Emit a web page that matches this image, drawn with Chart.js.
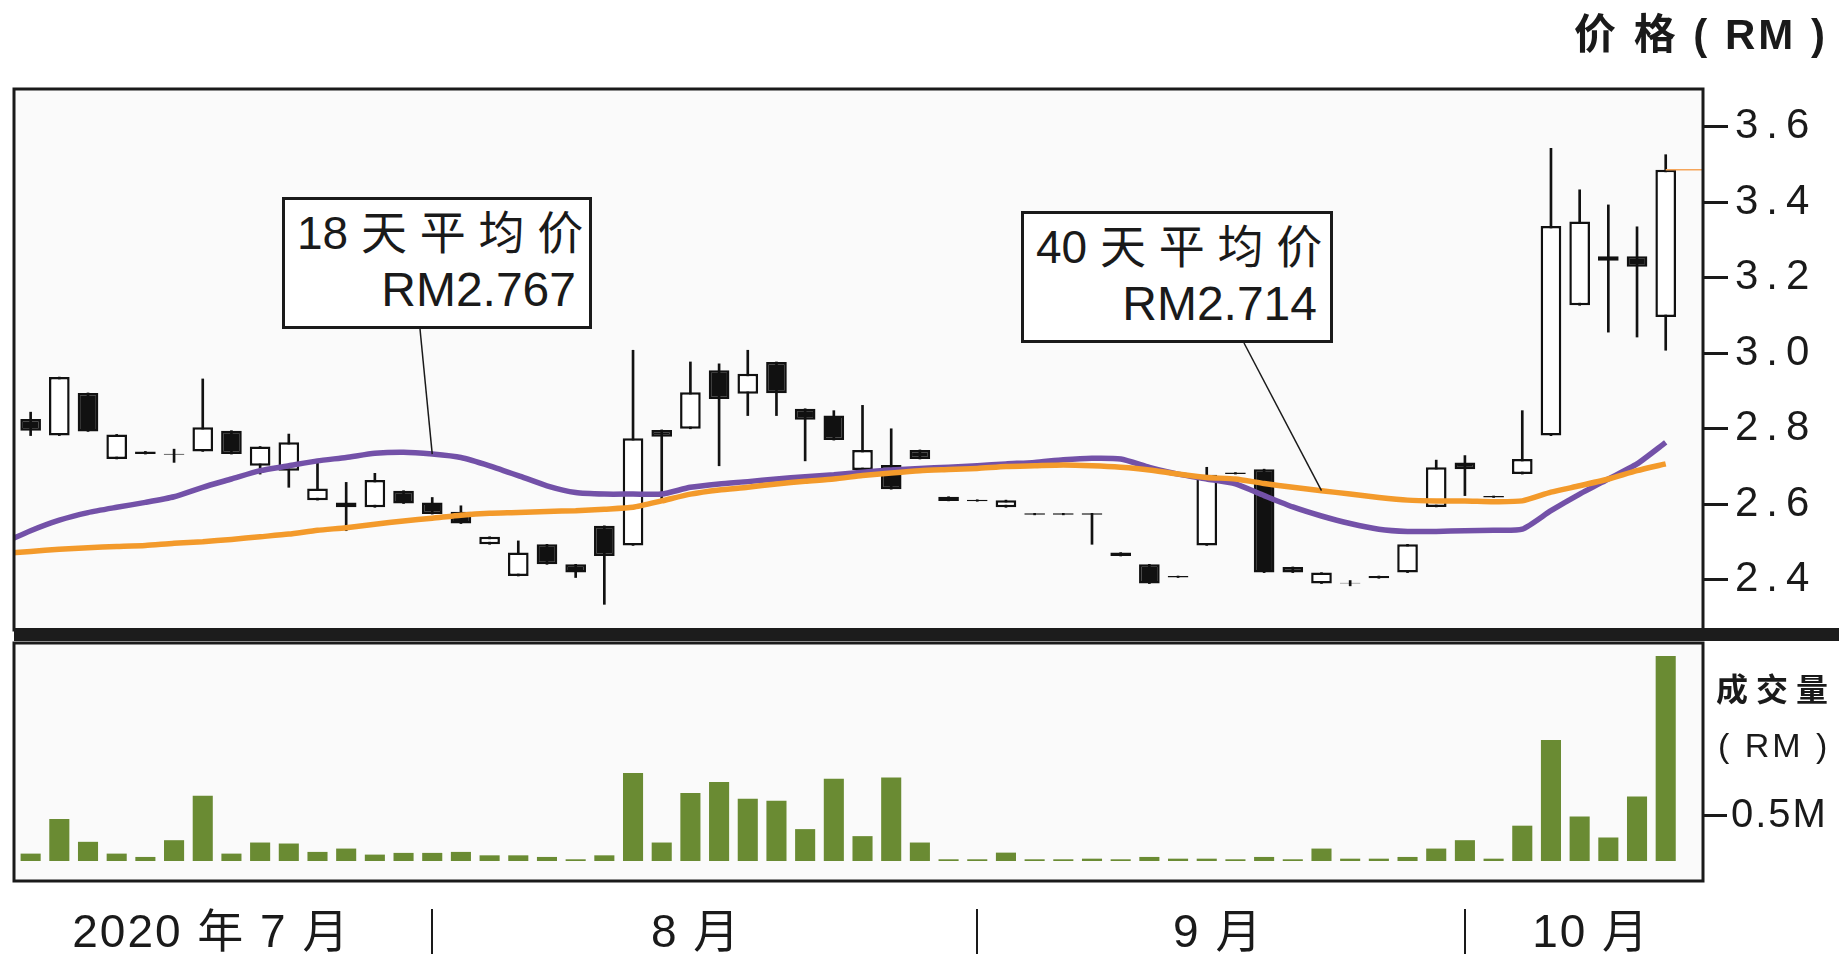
<!DOCTYPE html>
<html lang="zh">
<head>
<meta charset="utf-8">
<title>价格走势</title>
<script src="https://cdn.jsdelivr.net/npm/chart.js@4.4.1/dist/chart.umd.min.js"></script>
<style>
  html, body { margin: 0; padding: 0; background: #fff; }
  body { position: relative; width: 1845px; height: 969px; overflow: hidden;
         font-family: "Liberation Sans", "Noto Sans CJK SC", sans-serif; color: #1a1a1a; }
  .abs { position: absolute; }
  #priceWrap { left: 0; top: 0; width: 1845px; height: 641px; }
  #volWrap { left: 0; top: 641px; width: 1845px; height: 328px; }
  #divider { left: 14px; top: 628px; width: 1825px; height: 13px; background: #1c1c1c; }
  .note { position: absolute; background: #fff; border: 3px solid #1a1a1a; box-sizing: border-box; }
  .note .l1 { position: absolute; left: 12px; top: 10px; font-size: 46px; line-height: 46px; white-space: nowrap; }
  .note .l2 { position: absolute; right: 13px; top: 66px; font-size: 48px; line-height: 48px; white-space: nowrap; }
  #note18 { left: 282px; top: 197px; width: 310px; height: 132px; }
  #note40 { left: 1021px; top: 211px; width: 312px; height: 132px; }
  #priceTitle { right: 17px; top: 14px; font-size: 42px; line-height: 42px; font-weight: bold;
                letter-spacing: 3px; white-space: nowrap; }
  #volTitle1 { left: 1716px; top: 671px; font-family: "Noto Sans CJK SC", sans-serif; font-size: 32px;
               line-height: 32px; letter-spacing: 8px; font-weight: bold; white-space: nowrap; }
  #volTitle2 { left: 1718px; top: 728px; font-size: 34px; line-height: 34px; letter-spacing: 3px; white-space: nowrap; }
</style>
</head>
<body>
<div class="abs" id="priceWrap"><canvas id="priceChart" width="1845" height="641"></canvas></div>
<div class="abs" id="volWrap"><canvas id="volChart" width="1845" height="328"></canvas></div>
<div class="abs" id="divider"></div>

<div class="note" id="note18"><span class="l1">18 天 平 均 价</span><span class="l2">RM2.767</span></div>
<div class="note" id="note40"><span class="l1">40 天 平 均 价</span><span class="l2">RM2.714</span></div>

<div class="abs" id="priceTitle">价 格 ( RM )</div>
<div class="abs" id="volTitle1">成交量</div>
<div class="abs" id="volTitle2">( RM )</div>

<script>
/******************** values (58 trading days) ********************/
const opens = [2.826, 2.782, 2.895, 2.720, 2.740, 2.734, 2.740, 2.795, 2.702, 2.689,
  2.611, 2.592, 2.592, 2.636, 2.605, 2.580, 2.494, 2.410, 2.494, 2.441,
  2.543, 2.491, 2.797, 2.800, 2.955, 2.893, 2.977, 2.853, 2.835, 2.691,
  2.704, 2.744, 2.620, 2.612, 2.592, 2.576, 2.576, 2.576, 2.472, 2.441,
  2.410, 2.491, 2.684, 2.693, 2.434, 2.390, 2.392, 2.410, 2.419, 2.593,
  2.711, 2.622, 2.680, 2.782, 3.127, 3.245, 3.257, 3.096];
const highs = [2.844, 2.937, 2.895, 2.785, 2.740, 2.746, 2.932, 2.795, 2.753, 2.786,
  2.715, 2.658, 2.682, 2.636, 2.618, 2.596, 2.514, 2.503, 2.494, 2.441,
  2.543, 3.008, 2.797, 2.977, 2.972, 3.008, 2.977, 2.853, 2.848, 2.862,
  2.800, 2.744, 2.620, 2.612, 2.611, 2.576, 2.576, 2.576, 2.472, 2.441,
  2.410, 2.698, 2.684, 2.693, 2.434, 2.419, 2.398, 2.410, 2.494, 2.717,
  2.729, 2.622, 2.848, 3.543, 3.433, 3.393, 3.335, 3.526];
const lows = [2.782, 2.782, 2.793, 2.720, 2.733, 2.711, 2.740, 2.733, 2.680, 2.645,
  2.611, 2.530, 2.592, 2.602, 2.574, 2.549, 2.494, 2.410, 2.441, 2.406,
  2.335, 2.491, 2.614, 2.800, 2.702, 2.835, 2.835, 2.715, 2.770, 2.691,
  2.640, 2.720, 2.609, 2.608, 2.592, 2.572, 2.572, 2.494, 2.463, 2.390,
  2.406, 2.491, 2.680, 2.419, 2.419, 2.390, 2.384, 2.404, 2.419, 2.593,
  2.623, 2.618, 2.680, 2.782, 3.127, 3.056, 3.043, 3.008];
const closes = [2.795, 2.937, 2.793, 2.785, 2.733, 2.731, 2.804, 2.733, 2.753, 2.764,
  2.642, 2.605, 2.664, 2.602, 2.574, 2.549, 2.514, 2.472, 2.441, 2.419,
  2.463, 2.775, 2.779, 2.897, 2.879, 2.946, 2.894, 2.824, 2.770, 2.744,
  2.640, 2.720, 2.609, 2.608, 2.611, 2.572, 2.572, 2.572, 2.463, 2.390,
  2.406, 2.678, 2.680, 2.419, 2.419, 2.419, 2.390, 2.404, 2.494, 2.698,
  2.693, 2.618, 2.720, 3.337, 3.349, 3.257, 3.229, 3.486];

// volume in RM million
const volumes = [0.082, 0.466, 0.213, 0.082, 0.045, 0.231, 0.724, 0.082, 0.205, 0.194,
  0.101, 0.138, 0.071, 0.090, 0.090, 0.101, 0.063, 0.063, 0.045, 0.019,
  0.063, 0.978, 0.205, 0.754, 0.877, 0.690, 0.668, 0.354, 0.914, 0.276,
  0.928, 0.205, 0.019, 0.019, 0.093, 0.019, 0.019, 0.026, 0.019, 0.045,
  0.026, 0.026, 0.019, 0.045, 0.019, 0.138, 0.026, 0.026, 0.045, 0.138,
  0.231, 0.026, 0.392, 1.343, 0.493, 0.261, 0.716, 2.276];

// moving averages, first value is the day before the first candle
const ma18 = [2.496, 2.530, 2.558, 2.578, 2.592, 2.605, 2.620, 2.645, 2.667, 2.689,
  2.702, 2.715, 2.724, 2.735, 2.738, 2.733, 2.724, 2.702, 2.676, 2.649,
  2.631, 2.627, 2.627, 2.627, 2.645, 2.654, 2.660, 2.667, 2.673, 2.678,
  2.685, 2.691, 2.695, 2.698, 2.702, 2.707, 2.711, 2.718, 2.722, 2.720,
  2.698, 2.680, 2.667, 2.654, 2.623, 2.593, 2.569, 2.549, 2.534, 2.528,
  2.528, 2.530, 2.531, 2.534, 2.583, 2.627, 2.667, 2.707, 2.764];
const ma40 = [2.469, 2.475, 2.481, 2.485, 2.488, 2.491, 2.497, 2.501, 2.507, 2.514,
  2.521, 2.531, 2.538, 2.547, 2.556, 2.563, 2.571, 2.576, 2.578, 2.581,
  2.583, 2.587, 2.592, 2.609, 2.627, 2.638, 2.645, 2.654, 2.661, 2.667,
  2.676, 2.683, 2.689, 2.692, 2.695, 2.700, 2.702, 2.704, 2.702, 2.698,
  2.691, 2.680, 2.671, 2.667, 2.655, 2.645, 2.636, 2.627, 2.618, 2.611,
  2.609, 2.609, 2.607, 2.609, 2.632, 2.649, 2.667, 2.689, 2.707];

const priceTicks = [2.4, 2.6, 2.8, 3.0, 3.2, 3.4, 3.6];
const volumeTicks = [0.5];
const monthLabels = ["2020 年 7 月", "8 月", "9 月", "10 月"];
const monthCentres = [7.3, 24.2, 42.4, 55.4];   // in trading-day units
const monthBreaks = [15, 34, 51];

/******************** helpers ********************/
const xMin = 0.42, xMax = 59.3;
const days = closes.map((c, i) => i + 1);
const ink = "#1a1a1a";

// fixed axis box, no extra padding for labels at the ends
function fixBox(size) {
  return s => {
    if (s.isHorizontal()) s.height = size; else s.width = size;
    s.paddingTop = s.paddingBottom = s.paddingLeft = s.paddingRight = 0;
  };
}

// frame, background, leader lines and month separators
const framePlugin = {
  id: "frame",
  beforeDraw(chart, args, opts) {
    const { ctx, chartArea: a } = chart;
    ctx.letterSpacing = opts.spacing || "0px";
    ctx.save();
    ctx.fillStyle = "#fafafa";
    ctx.fillRect(a.left, a.top, a.right - a.left, a.bottom - a.top);
    ctx.restore();
  },
  afterDraw(chart, args, opts) {
    const { ctx, chartArea: a, scales } = chart;
    ctx.save();
    ctx.strokeStyle = ink;
    ctx.lineWidth = 3;
    ctx.strokeRect(a.left, a.top, a.right - a.left, a.bottom - a.top);

    ctx.lineWidth = 1.5;
    (opts.leaders || []).forEach(l => {
      ctx.beginPath();
      ctx.moveTo(l.from[0], l.from[1]);
      ctx.lineTo(scales.x.getPixelForValue(l.day), scales.y.getPixelForValue(l.series[l.day]));
      ctx.stroke();
    });

    ctx.lineWidth = 2;
    (opts.breaks || []).forEach(b => {
      const x = Math.round(scales.x.getPixelForValue(b));
      ctx.beginPath();
      ctx.moveTo(x, a.bottom + 28);
      ctx.lineTo(x, a.bottom + 73);
      ctx.stroke();
    });
    ctx.restore();
  }
};

/******************** price chart ********************/
new Chart(document.getElementById("priceChart"), {
  type: "bar",
  data: {
    datasets: [
      {
        type: "line", label: "40 天平均价",
        data: ma40.map((v, i) => ({ x: i, y: v })),
        borderColor: "#f39a2b", borderWidth: 5.5, pointRadius: 0, tension: 0.2, clip: 0, order: 0
      },
      {
        type: "line", label: "收市价",
        data: [{ x: days.length, y: closes[closes.length - 1] }, { x: xMax + 1, y: closes[closes.length - 1] }],
        borderColor: "#f5a55a", borderWidth: 1.5, pointRadius: 0, clip: 0, order: 0
      },
      {
        type: "line", label: "18 天平均价",
        data: ma18.map((v, i) => ({ x: i, y: v })),
        borderColor: "#7351a8", borderWidth: 5.5, pointRadius: 0, tension: 0.2, clip: 0, order: 1
      },
      {
        type: "bar", label: "body",
        data: days.map((d, i) => ({ x: d, y: [Math.min(opens[i], closes[i]), Math.max(opens[i], closes[i])] })),
        backgroundColor: c => closes[c.dataIndex] >= opens[c.dataIndex] ? "#ffffff" : "#111111",
        borderColor: "#111111", borderWidth: 2.5, borderSkipped: false,
        grouped: false, barPercentage: 0.72, categoryPercentage: 1, order: 2
      },
      {
        type: "bar", label: "wick",
        data: days.map((d, i) => ({ x: d, y: [lows[i], highs[i]] })),
        backgroundColor: "#111111", barThickness: 2, grouped: false, order: 3
      }
    ]
  },
  options: {
    responsive: false,
    animation: false,
    events: [],
    layout: { padding: { left: 14, top: 89, right: 0, bottom: 11 } },
    plugins: {
      legend: { display: false },
      tooltip: { enabled: false },
      frame: {
        spacing: "8px",
        leaders: [
          { from: [420, 329], day: 15, series: ma18 },
          { from: [1244, 343], day: 46, series: ma40 }
        ]
      }
    },
    scales: {
      x: { type: "linear", min: xMin, max: xMax, offset: false, display: false, grid: { offset: false } },
      y: {
        type: "linear", position: "right", min: 2.267, max: 3.70,
        afterBuildTicks: s => { s.ticks = priceTicks.map(v => ({ value: v })); },
        afterFit: fixBox(142),
        border: { display: false },
        grid: { drawOnChartArea: false, drawTicks: true, tickLength: 25, tickWidth: 3, tickColor: ink },
        ticks: { padding: 7, color: ink, font: { family: "Liberation Sans", size: 42 }, callback: v => v.toFixed(1) }
      }
    }
  },
  plugins: [framePlugin]
});

/******************** volume chart ********************/
new Chart(document.getElementById("volChart"), {
  type: "bar",
  data: {
    datasets: [{
      label: "成交量",
      data: days.map((d, i) => ({ x: d, y: volumes[i] })),
      backgroundColor: "#6a8b33", barPercentage: 0.7, categoryPercentage: 1
    }]
  },
  options: {
    responsive: false,
    animation: false,
    events: [],
    layout: { padding: { left: 14, top: 2, right: 0, bottom: 0 } },
    plugins: {
      legend: { display: false },
      tooltip: { enabled: false },
      frame: { spacing: "2px", breaks: monthBreaks }
    },
    scales: {
      x: {
        type: "linear", min: xMin, max: xMax, offset: false, position: "bottom",
        grid: { display: false, drawTicks: false, offset: false }, border: { display: false },
        afterBuildTicks: s => { s.ticks = monthCentres.map(v => ({ value: v })); },
        afterFit: fixBox(88),
        ticks: {
          padding: 26, maxRotation: 0, autoSkip: false, color: ink,
          font: { family: '"Liberation Sans Narrow", "Liberation Sans", "Noto Sans CJK SC"', size: 46 },
          callback: (v, i) => monthLabels[i]
        }
      },
      y: {
        type: "linear", position: "right", min: -0.222, max: 2.42,
        afterBuildTicks: s => { s.ticks = volumeTicks.map(v => ({ value: v })); },
        afterFit: fixBox(142),
        border: { display: false },
        grid: { drawOnChartArea: false, drawTicks: true, tickLength: 24, tickWidth: 3, tickColor: ink },
        ticks: { padding: 4, color: ink, font: { family: "Liberation Sans", size: 40 }, callback: v => v + "M" }
      }
    }
  },
  plugins: [framePlugin]
});
</script>
</body>
</html>
